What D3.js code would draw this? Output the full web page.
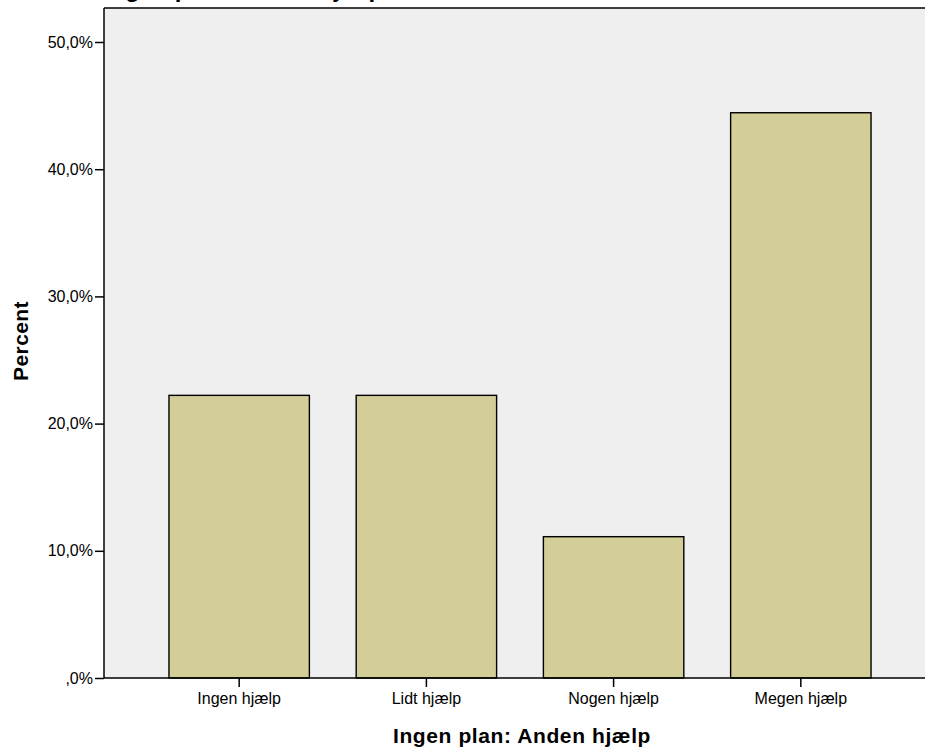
<!DOCTYPE html>
<html><head><meta charset="utf-8">
<script src="https://cdn.jsdelivr.net/npm/d3@7"></script>
<style>body{margin:0;background:#fff}svg{display:block}text{font-family:Arial,"Liberation Sans",sans-serif}</style>
</head><body>
<script>
const categories = ["Ingen hjælp","Lidt hjælp","Nogen hjælp","Megen hjælp"];
const values = [22.22, 22.22, 11.11, 44.44];
const tickValues = [0,10,20,30,40,50];
const tickLabels = [",0%","10,0%","20,0%","30,0%","40,0%","50,0%"];
const xTitle = "Ingen plan: Anden hjælp";
const yTitle = "Percent";

(function(){
const W = 925, H = 749;
const pL = 104, pR = 936, pT = 8, pB = 678;
const FONT = "Arial, 'Liberation Sans', sans-serif";
const svg = d3.select("body").append("svg").attr("width",W).attr("height",H);

const x = d3.scaleBand().domain(categories).range([pL,pR]).paddingInner(0.25).paddingOuter(0.347);
const y = d3.scaleLinear().domain([0,50]).range([pB, 42]);

svg.append("rect").attr("x",pL).attr("y",pT).attr("width",pR-pL).attr("height",pB-pT).attr("fill","#efefef");
svg.append("line").attr("x1",pL).attr("x2",pR).attr("y1",pT).attr("y2",pT).attr("stroke","#000").attr("stroke-width",1.5);

// title of the chart, mostly above the visible area (only descenders show)
svg.append("text").attr("x",104).attr("y",-3).attr("font-size",24).attr("font-weight","bold").text(xTitle);

svg.selectAll("rect.bar").data(values).enter().append("rect").attr("class","bar")
  .attr("x",(d,i)=>x(categories[i])).attr("width",x.bandwidth())
  .attr("y",d=>y(d)).attr("height",d=>y(0)-y(d))
  .attr("fill","#d3ce98").attr("stroke","#000").attr("stroke-width",1.4);

const yAxis = d3.axisLeft(y).tickValues(tickValues).tickFormat((d,i)=>tickLabels[i]).tickSize(9).tickPadding(2);
const gy = svg.append("g").attr("transform",`translate(${pL},0)`).call(yAxis);
gy.select(".domain").attr("d",`M0,${pT}V${pB}`).attr("stroke-width",1.5);
gy.selectAll(".tick line").attr("stroke-width",1.5);
gy.selectAll(".tick text").attr("font-size",16).attr("font-family",FONT).attr("fill","#000");

const xAxis = d3.axisBottom(x).tickSize(9).tickPadding(6);
const gx = svg.append("g").attr("transform",`translate(0,${pB})`).call(xAxis);
gx.select(".domain").attr("d",`M${pL},0H${pR}`).attr("stroke-width",1.5);
gx.selectAll(".tick line").attr("stroke-width",1.5);
gx.selectAll(".tick text").attr("font-size",16).attr("font-family",FONT).attr("fill","#000");

svg.append("text").attr("x",(pL+pR)/2 + 2).attr("y",743).attr("text-anchor","middle")
  .attr("font-size",21).attr("font-weight","bold").attr("letter-spacing",0.6).text(xTitle);
svg.append("text").attr("transform","translate(28,341) rotate(-90)").attr("text-anchor","middle")
  .attr("font-size",21).attr("font-weight","bold").attr("letter-spacing",0.4).text(yTitle);
})();
</script>
</body></html>
